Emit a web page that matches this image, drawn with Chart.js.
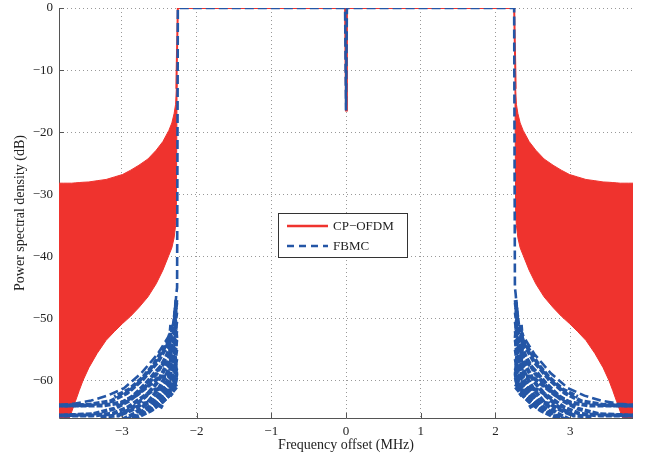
<!DOCTYPE html>
<html>
<head>
<meta charset="utf-8">
<script src="https://cdn.jsdelivr.net/npm/chart.js@4.4.0/dist/chart.umd.min.js"></script>
<style>
  body { margin: 0; background: #fff; }
</style>
</head>
<body>
<canvas id="myChart" width="647" height="454"></canvas>
<script>
// axis ticks
const xTicks = [-3, -2, -1, 0, 1, 2, 3];
const yTicks = [-60, -50, -40, -30, -20, -10, 0];

// CP-OFDM in band (MHz, dB)
const ofdmBandFreq = [-2.27, -2.25, -0.012, 0, 0.012, 2.25, 2.27];
const ofdmBandDb = [-13, 0, 0, -16.5, 0, 0, -13];

// CP-OFDM sidelobe envelope, offset from centre (same both sides)
const lobeFreq = [2.26, 2.27, 2.28, 2.30, 2.33, 2.37, 2.45, 2.54, 2.65, 2.77, 2.88, 2.99, 3.10, 3.21, 3.33, 3.44, 3.52, 3.57, 3.62, 3.67, 3.72, 3.78, 3.84];
const lobeTop = [-12, -13, -15.5, -17, -18.5, -19.7, -21.5, -22.9, -24.3, -25.3, -26.1, -26.8, -27.2, -27.6, -27.8, -28.0, -28.05, -28.1, -28.15, -28.2, -28.2, -28.2, -28.2];
const lobeBottom = [-12, -33, -35, -37, -38.6, -39.8, -42.2, -44.4, -46.5, -48.2, -49.6, -50.8, -52.1, -53.5, -55.6, -57.9, -60, -61.6, -63.3, -65, -66.5, -68, -70];

// FBMC in band
const fbmcBandFreq = [-2.25, -0.012, 0, 0.012, 2.25];
const fbmcBandDb = [0, 0, -16.5, 0, 0];

// FBMC sidelobes, offset from centre
const fbmcMainFreq = [2.26, 2.27, 2.30, 2.38, 2.52, 2.74, 2.97, 3.19, 3.41, 3.64, 3.84];
const fbmcMainDb = [-45, -46, -50.5, -53, -55.7, -58.8, -61.2, -62.4, -63.2, -63.7, -63.9];
const fbmcTraces = [
  // decaying lobes
  { f: [2.27, 2.31, 2.39, 2.52, 2.72, 2.93, 3.15, 3.45, 3.84], db: [-47.5, -51.5, -54.3, -57, -59.8, -62, -63.3, -63.9, -64] },
  { f: [2.27, 2.31, 2.40, 2.53, 2.70, 2.90, 3.10, 3.40, 3.84], db: [-49, -53, -56, -58.8, -61.2, -63.2, -64.5, -65.4, -65.6] },
  { f: [2.27, 2.31, 2.40, 2.52, 2.68, 2.86, 3.05, 3.30], db: [-50.5, -54.5, -57.5, -60.2, -62.5, -64.4, -65.6, -65.8] },
  { f: [2.27, 2.31, 2.40, 2.51, 2.66, 2.83, 3.00], db: [-52, -56, -59, -61.4, -63.6, -65.3, -66.3] },
  { f: [2.27, 2.31, 2.39, 2.50, 2.64, 2.80, 2.95], db: [-53.5, -57.3, -60, -62.2, -64.2, -65.6, -66.3] },
  { f: [2.27, 2.31, 2.38, 2.48, 2.62, 2.78], db: [-55, -58.5, -60.8, -62.6, -64.4, -65.7] },
  { f: [2.27, 2.31, 2.38, 2.47, 2.60], db: [-56.5, -59.6, -61.5, -63, -64.6] },
  { f: [2.27, 2.31, 2.38, 2.47, 2.60], db: [-58, -60.5, -62, -63.3, -64.7] },
  { f: [2.27, 2.31, 2.38, 2.50], db: [-59.5, -61.3, -62.5, -63.9] },
  { f: [2.27, 2.35, 2.45, 2.61, 2.75, 2.92], db: [-61, -62.2, -63.3, -64.8, -65.6, -66.2] },
  // crossing lobes
  { f: [2.27, 2.36, 2.48, 2.62, 2.80, 3.00, 3.25, 3.84], db: [-61, -59.3, -59.3, -60.6, -62.3, -63.5, -64, -64] },
  { f: [2.32, 2.44, 2.58, 2.74, 2.92, 3.12, 3.40, 3.84], db: [-62.4, -61.2, -61.5, -62.8, -64.3, -65.3, -65.6, -65.6] },
  { f: [2.45, 2.58, 2.72, 2.88, 3.05], db: [-64.3, -63.4, -63.7, -64.8, -65.6] },
  { f: [2.30, 2.37, 2.46, 2.58, 2.72, 2.90, 3.10], db: [-55, -53.6, -55.2, -57.5, -59.5, -61.4, -62.6] },
  { f: [2.33, 2.42, 2.54, 2.68, 2.85, 3.05], db: [-58, -57, -58.5, -60.5, -62.5, -64] },
  // near-edge wiggles
  { f: [2.27, 2.29, 2.27, 2.29, 2.27, 2.30], db: [-47, -50, -53, -56, -59, -61.5] },
  { f: [2.34, 2.36, 2.34, 2.37, 2.35], db: [-51, -54, -57, -60, -62.5] },
];

const RED = "#ef332e";
const BLUE = "#2456a6";

function pts(freq, db, sign) {
  return freq.map((f, i) => ({ x: sign * f, y: db[i] }));
}

// main fbmc line: left lobe (reversed) -> band -> right lobe
var fbmcMain = pts(fbmcMainFreq, fbmcMainDb, -1).reverse()
  .concat(pts(fbmcBandFreq, fbmcBandDb, 1))
  .concat(pts(fbmcMainFreq, fbmcMainDb, 1));

function fbmcTrace(t, sign) {
  return {
    label: "",
    data: pts(t.f, t.db, sign),
    borderColor: BLUE,
    borderWidth: 4,
    borderDash: [6, 2],
    pointRadius: 0,
    fill: false,
    order: 0,
  };
}

function lobeFill(sign) {
  return [
    {
      label: "",
      data: pts(lobeFreq, lobeTop, sign),
      borderColor: RED,
      backgroundColor: RED,
      borderWidth: 1,
      pointRadius: 0,
      fill: "+1",
      order: 2,
    },
    {
      label: "",
      data: pts(lobeFreq, lobeBottom, sign),
      borderColor: RED,
      borderWidth: 1,
      pointRadius: 0,
      fill: false,
      order: 2,
    },
  ];
}

var datasets = [
  {
    label: "FBMC",
    data: fbmcMain,
    borderColor: BLUE,
    borderWidth: 2.6,
    borderDash: [9, 4],
    pointRadius: 0,
    fill: false,
    order: 0,
  },
];
[1, -1].forEach(function (s) {
  fbmcTraces.forEach(function (t) {
    datasets.push(fbmcTrace(t, s));
  });
});
datasets.push({
  label: "CP\u2212OFDM",
  data: pts(ofdmBandFreq, ofdmBandDb, 1),
  borderColor: RED,
  borderWidth: 2,
  pointRadius: 0,
  fill: false,
  order: 1,
});
datasets = datasets.concat(lobeFill(-1)).concat(lobeFill(1));

const serif = "'Liberation Serif', 'Times New Roman', serif";

// axis lines + inward ticks (matlab style)
const axesPlugin = {
  id: "axesLines",
  beforeDatasetsDraw(chart) {
    const ctx = chart.ctx;
    const a = chart.chartArea;
    const xs = chart.scales.x;
    const ys = chart.scales.y;
    ctx.save();
    ctx.strokeStyle = "#555";
    ctx.lineWidth = 1;
    ctx.beginPath();
    ctx.moveTo(a.left + 0.5, a.top);
    ctx.lineTo(a.left + 0.5, a.bottom + 0.5);
    ctx.lineTo(a.right, a.bottom + 0.5);
    xTicks.forEach(function (v) {
      var px = Math.round(xs.getPixelForValue(v)) + 0.5;
      ctx.moveTo(px, a.bottom);
      ctx.lineTo(px, a.bottom - 5);
    });
    yTicks.forEach(function (v) {
      var py = Math.round(ys.getPixelForValue(v)) + 0.5;
      ctx.moveTo(a.left, py);
      ctx.lineTo(a.left + 5, py);
    });
    ctx.stroke();
    ctx.restore();
  },
};

// legend box inside the plot
const legendPlugin = {
  id: "boxLegend",
  afterDraw(chart) {
    const ctx = chart.ctx;
    const bx = 278, by = 213, bw = 129, bh = 44;
    ctx.save();
    ctx.fillStyle = "#fff";
    ctx.fillRect(bx, by, bw, bh);
    ctx.strokeStyle = "#333";
    ctx.lineWidth = 1;
    ctx.strokeRect(bx + 0.5, by + 0.5, bw, bh);
    const items = [
      { ds: chart.data.datasets.find((d) => d.label == "CP\u2212OFDM"), y: by + 13 },
      { ds: chart.data.datasets.find((d) => d.label == "FBMC"), y: by + 33 },
    ];
    items.forEach(function (it) {
      ctx.strokeStyle = it.ds.borderColor;
      ctx.lineWidth = 2.5;
      ctx.setLineDash(it.ds.borderDash ? [7, 5] : []);
      ctx.beginPath();
      ctx.moveTo(bx + 9, it.y);
      ctx.lineTo(bx + 50, it.y);
      ctx.stroke();
      ctx.setLineDash([]);
      ctx.fillStyle = "#222";
      ctx.font = "13px " + serif;
      ctx.textBaseline = "middle";
      ctx.fillText(it.ds.label, bx + 55, it.y + 1);
    });
    ctx.restore();
  },
};

new Chart(document.getElementById("myChart"), {
  type: "line",
  data: { datasets: datasets },
  options: {
    responsive: false,
    animation: false,
    layout: { padding: { top: 8, right: 14, left: 0, bottom: 0 } },
    elements: { line: { tension: 0 } },
    plugins: {
      legend: { display: false },
      tooltip: { enabled: false },
    },
    scales: {
      x: {
        type: "linear",
        min: -3.84,
        max: 3.84,
        afterBuildTicks: (scale) => {
          scale.ticks = xTicks.map((v) => ({ value: v }));
        },
        afterFit: (scale) => {
          scale.height = 36;
          scale.paddingLeft = 0;
          scale.paddingRight = 0;
        },
        grid: { color: "#999", drawTicks: false, lineWidth: 1 },
        border: { display: false, dash: [1, 3] },
        ticks: {
          padding: 6,
          color: "#222",
          font: { family: serif, size: 13 },
          callback: (v) => (v < 0 ? "\u2212" + Math.abs(v) : "" + v),
        },
        title: {
          display: true,
          text: "Frequency offset (MHz)",
          color: "#222",
          font: { family: serif, size: 14 },
          padding: { top: 0, bottom: 0 },
        },
      },
      y: {
        min: -66,
        max: 0,
        afterBuildTicks: (scale) => {
          scale.ticks = yTicks.map((v) => ({ value: v }));
        },
        afterFit: (scale) => {
          scale.width = 59;
          scale.paddingTop = 0;
          scale.paddingBottom = 0;
        },
        grid: { color: "#999", drawTicks: false, lineWidth: 1 },
        border: { display: false, dash: [1, 3] },
        ticks: {
          padding: 6,
          color: "#222",
          font: { family: serif, size: 13 },
          callback: (v) => (v < 0 ? "\u2212" + Math.abs(v) : "" + v),
        },
        title: {
          display: true,
          text: "Power spectral density (dB)",
          color: "#222",
          font: { family: serif, size: 14 },
          padding: { top: 12, bottom: 0 },
        },
      },
    },
  },
  plugins: [axesPlugin, legendPlugin],
});
</script>
</body>
</html>
